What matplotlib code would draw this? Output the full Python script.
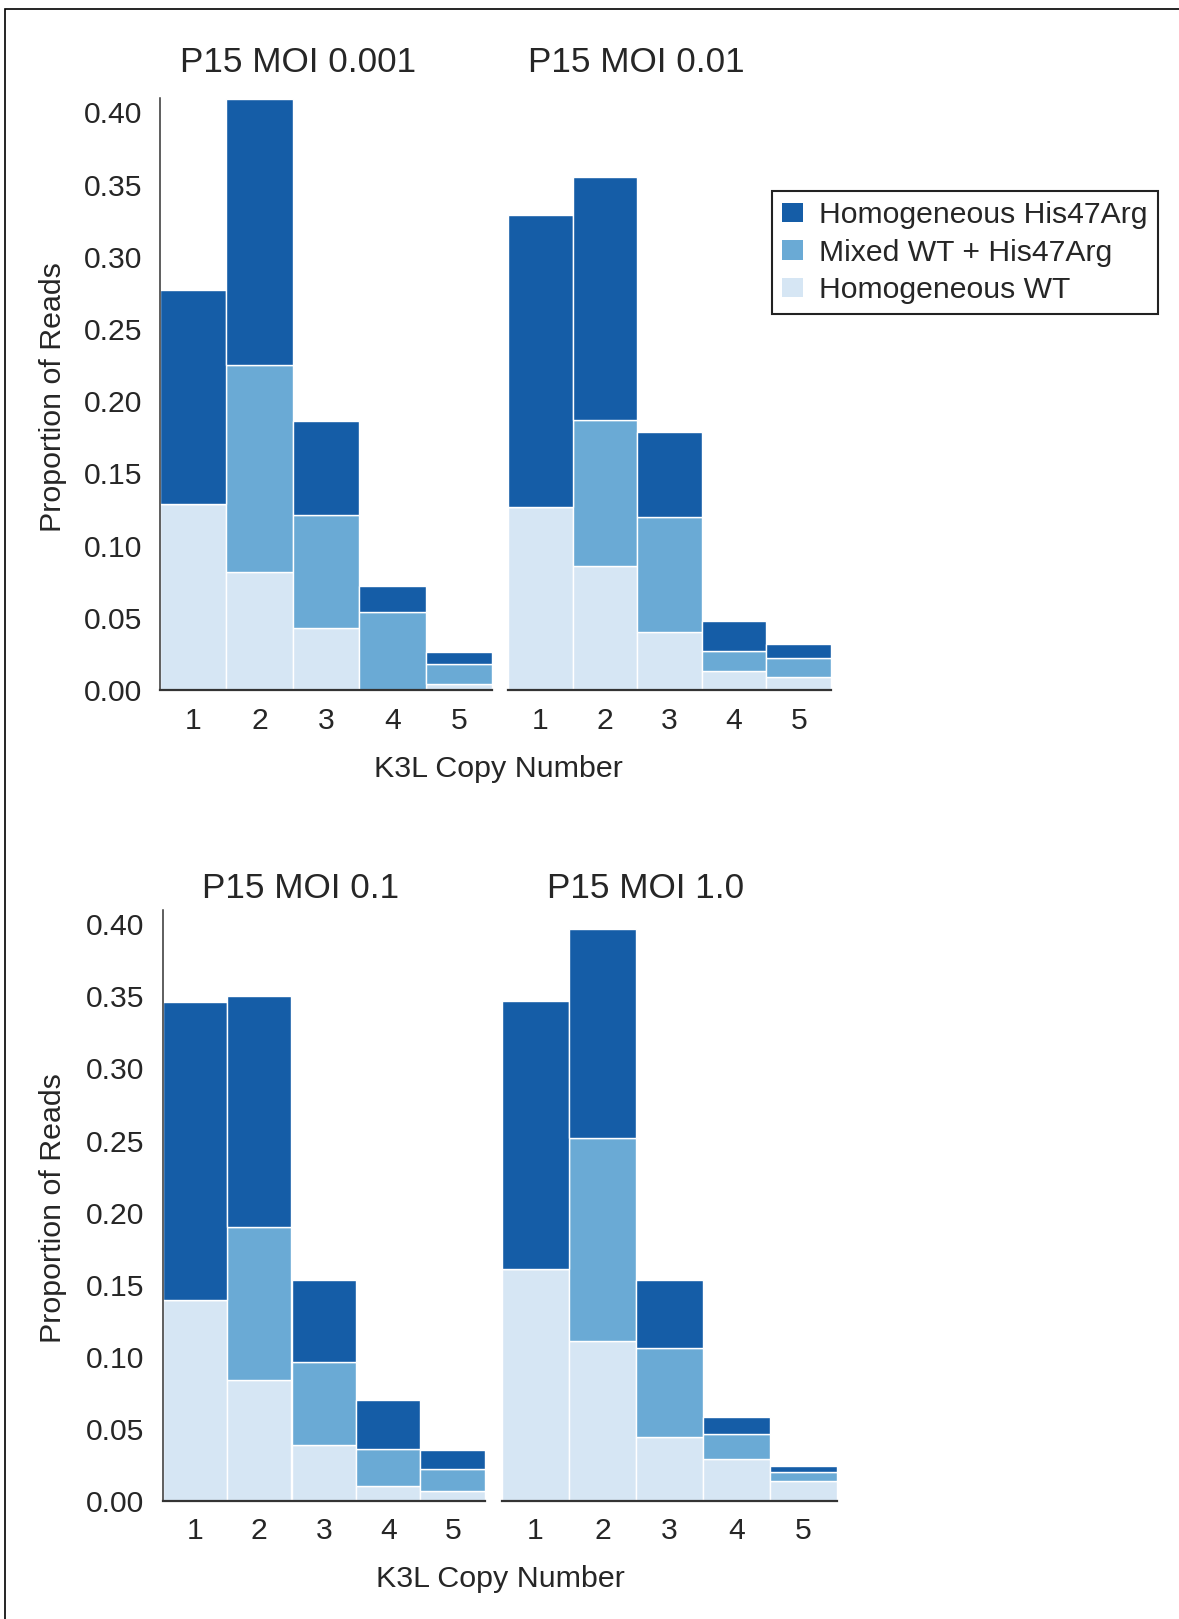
import matplotlib
matplotlib.use("Agg")
import matplotlib.pyplot as plt
from matplotlib.patches import Patch, Rectangle

plt.rcParams['font.family'] = ['Liberation Sans', 'DejaVu Sans']
plt.rcParams['text.color'] = '#262626'
plt.rcParams['xtick.color'] = '#262626'
plt.rcParams['ytick.color'] = '#262626'

copy_numbers = [1, 2, 3, 4, 5]
y_ticks = [0.00, 0.05, 0.10, 0.15, 0.20, 0.25, 0.30, 0.35, 0.40]
series_names = ["Homogeneous His47Arg", "Mixed WT + His47Arg", "Homogeneous WT"]
panel_titles = ["P15 MOI 0.001", "P15 MOI 0.01", "P15 MOI 0.1", "P15 MOI 1.0"]

# stacked from bottom: WT, mixed, His47Arg
moi_0001_wt = [0.129, 0.082, 0.043, 0.000, 0.004]
moi_0001_mixed = [0.000, 0.143, 0.078, 0.054, 0.014]
moi_0001_his = [0.148, 0.184, 0.065, 0.018, 0.008]

moi_001_wt = [0.127, 0.086, 0.040, 0.013, 0.009]
moi_001_mixed = [0.000, 0.101, 0.080, 0.014, 0.013]
moi_001_his = [0.202, 0.168, 0.059, 0.021, 0.010]

moi_01_wt = [0.139, 0.084, 0.039, 0.010, 0.007]
moi_01_mixed = [0.000, 0.106, 0.057, 0.026, 0.015]
moi_01_his = [0.207, 0.160, 0.057, 0.034, 0.013]

moi_1_wt = [0.161, 0.111, 0.044, 0.029, 0.014]
moi_1_mixed = [0.000, 0.141, 0.062, 0.017, 0.006]
moi_1_his = [0.186, 0.145, 0.047, 0.012, 0.004]

colors = {"his": "#155da7", "mixed": "#6aaad5", "wt": "#d6e6f4"}

W, H = 1179, 1619
fig = plt.figure(figsize=(W / 100, H / 100), dpi=100)

TICK_FS = 21.7
LABEL_FS = 21.9


def px_axes(x0, x1, y0, y1):
    # pixel box (top-left origin) -> figure fraction axes
    return fig.add_axes([x0 / W, 1 - y1 / H, (x1 - x0) / W, (y1 - y0) / H])


def draw_panel(ax, wt, mixed, his, show_y):
    bottom2 = [a + b for a, b in zip(wt, mixed)]
    kw = dict(width=1.0, edgecolor="white", linewidth=1.0)
    ax.bar(copy_numbers, wt, color=colors["wt"], **kw)
    ax.bar(copy_numbers, mixed, bottom=wt, color=colors["mixed"], **kw)
    ax.bar(copy_numbers, his, bottom=bottom2, color=colors["his"], **kw)
    ax.set_xlim(0.5, 5.5)
    ax.set_ylim(0, 0.41)
    ax.set_xticks(copy_numbers)
    ax.set_xticklabels([str(c) for c in copy_numbers], fontsize=TICK_FS)
    ax.tick_params(axis="x", length=0, pad=12)
    for s in ["top", "right"]:
        ax.spines[s].set_visible(False)
    ax.spines["bottom"].set_color("#333333")
    ax.spines["bottom"].set_linewidth(1.6)
    if show_y:
        ax.set_yticks(y_ticks)
        ax.set_yticklabels([f"{t:.2f}" for t in y_ticks], fontsize=TICK_FS)
        ax.tick_params(axis="y", length=0, pad=13)
        ax.spines["left"].set_color("#333333")
        ax.spines["left"].set_linewidth(1.1)
    else:
        ax.set_yticks([])
        ax.spines["left"].set_visible(False)


ax1 = px_axes(160, 492, 98, 690)
ax2 = px_axes(508, 831, 98, 690)
ax3 = px_axes(162.5, 485, 910, 1500.7)
ax4 = px_axes(502, 837, 910, 1500.7)

draw_panel(ax1, moi_0001_wt, moi_0001_mixed, moi_0001_his, True)
draw_panel(ax2, moi_001_wt, moi_001_mixed, moi_001_his, False)
draw_panel(ax3, moi_01_wt, moi_01_mixed, moi_01_his, True)
draw_panel(ax4, moi_1_wt, moi_1_mixed, moi_1_his, False)

title_pos = [(298, 63), (636, 63), (301, 888), (646, 888)]
for t, (x, y) in zip(panel_titles, title_pos):
    fig.text(x / W, 1 - y / H, t, fontsize=25.3, ha="center", va="center")

for y in [397, 1208]:
    fig.text(53 / W, 1 - y / H, "Proportion of Reads", fontsize=LABEL_FS,
             rotation=90, ha="center", va="center")
for x, y in [(498, 769), (500, 1579)]:
    fig.text(x / W, 1 - y / H, "K3L Copy Number", fontsize=LABEL_FS,
             ha="center", va="center")

handles = [Patch(facecolor=colors["his"]), Patch(facecolor=colors["mixed"]),
           Patch(facecolor=colors["wt"])]
leg = fig.legend(handles, series_names, loc="upper left",
                 bbox_to_anchor=(772 / W, 1 - 191 / H), fontsize=TICK_FS,
                 frameon=True, fancybox=False, framealpha=1,
                 edgecolor="#222222", handlelength=0.68, handleheight=0.62,
                 handletextpad=0.55, labelspacing=0.31, borderpad=0.34,
                 borderaxespad=0)
leg.get_frame().set_linewidth(1.5)

# outer frame (only top and left edges fall inside the picture)
fig.patches.append(Rectangle((5.3 / W, -0.1), 1.2, 1.1 - 9.3 / H,
                             transform=fig.transFigure, fill=False,
                             edgecolor="black", linewidth=1.2))

fig.savefig("out.png", dpi=100)
